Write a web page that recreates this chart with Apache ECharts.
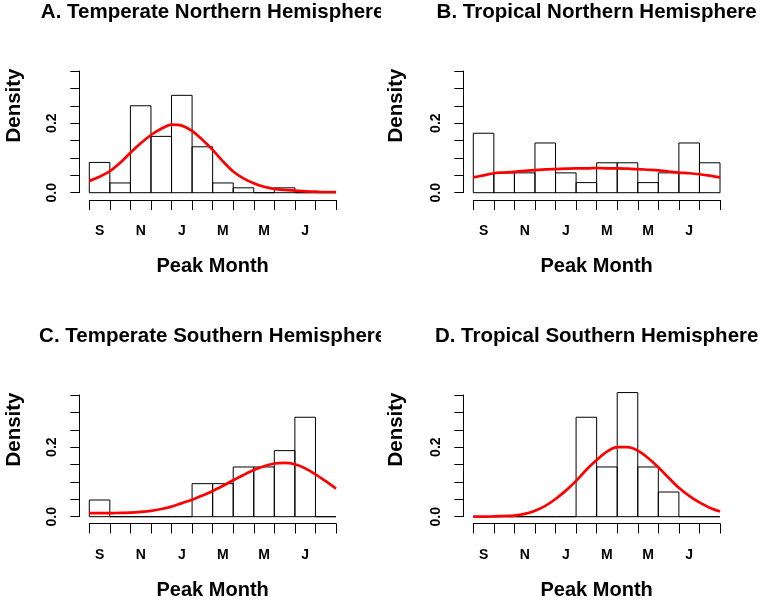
<!DOCTYPE html>
<html><head><meta charset="utf-8">
<script src="https://cdn.jsdelivr.net/npm/echarts@6/dist/echarts.min.js"></script>
<style>
html,body{margin:0;padding:0;background:#fff;width:762px;height:601px;overflow:hidden;}
.p{position:absolute;width:381px;}
</style></head><body>
<div id="A" class="p" style="left:0;top:0;height:300px"></div>
<div id="B" class="p" style="left:381px;top:0;height:300px"></div>
<div id="C" class="p" style="left:0;top:300px;height:301px"></div>
<div id="D" class="p" style="left:381px;top:300px;height:301px"></div>
<script>
// Month bins (Sep .. Aug)
const months = ['S','O','N','D','J','F','M','A','M','J','J','A'];
// Y-axis labelled ticks
const yLabelValues = [0, 0.2];
const yLabelTexts = ['0.0', '0.2'];
// Histogram densities per month bin
const histA = [0.087, 0.028, 0.250, 0.162, 0.280, 0.132, 0.028, 0.014, 0, 0.014, 0, 0];
const histB = [0.171, 0.057, 0.057, 0.143, 0.057, 0.029, 0.086, 0.086, 0.029, 0.057, 0.143, 0.086];
const histC = [0.048, 0, 0, 0, 0, 0.095, 0.095, 0.143, 0.143, 0.190, 0.286, 0];
const histD = [0, 0, 0, 0, 0, 0.286, 0.143, 0.357, 0.143, 0.071, 0, 0];
// Fitted density curves, sampled every half month
const curveX = [0,0.5,1,1.5,2,2.5,3,3.5,4,4.5,5,5.5,6,6.5,7,7.5,8,8.5,9,9.5,10,10.5,11,11.5,12];
const curveA = [0.034,0.046,0.062,0.086,0.115,0.142,0.166,0.184,0.196,0.193,0.178,0.152,0.123,0.090,0.061,0.041,0.027,0.017,0.011,0.008,0.006,0.004,0.003,0.002,0.002];
const curveB = [0.044,0.050,0.056,0.058,0.060,0.063,0.065,0.067,0.068,0.069,0.070,0.070,0.071,0.070,0.070,0.069,0.068,0.066,0.064,0.061,0.058,0.056,0.053,0.049,0.044];
const curveC = [0.010,0.010,0.010,0.011,0.012,0.014,0.017,0.022,0.029,0.039,0.049,0.061,0.074,0.089,0.105,0.120,0.134,0.145,0.153,0.155,0.151,0.139,0.122,0.102,0.081];
const curveD = [0.000,0.000,0.001,0.002,0.003,0.008,0.017,0.031,0.051,0.075,0.103,0.135,0.163,0.187,0.200,0.200,0.190,0.169,0.142,0.112,0.083,0.060,0.041,0.026,0.015];
const titles = ['A. Temperate Northern Hemisphere','B. Tropical Northern Hemisphere','C. Temperate Southern Hemisphere','D. Tropical Southern Hemisphere'];

const FONT = '"Liberation Sans", Arial, Helvetica, sans-serif';
const panels = [
  {id:'A', title:titles[0], hist:histA, curve:curveA, dx:0, dy:0},
  {id:'B', title:titles[1], hist:histB, curve:curveB, dx:3, dy:0},
  {id:'C', title:titles[2], hist:histC, curve:curveC, dx:0, dy:24},
  {id:'D', title:titles[3], hist:histD, curve:curveD, dx:3, dy:24}
];
const labelStyle = {color: '#000', fontSize: 14, fontWeight: 'bold', fontFamily: FONT};
const blackLine = {color: '#000', width: 1};

panels.forEach(p => {
  const chart = echarts.init(document.getElementById(p.id), null, {renderer:'canvas'});
  const gl = 89.3 + p.dx, gt = 71 + p.dy, gw = 246.7, gh = 121.7;
  const xOff = 7.3, yOff = 10;
  const cx = gl + gw / 2;
  chart.setOption({
    animation: false,
    backgroundColor: '#fff',
    grid: [
      {left: gl, top: gt, width: gw, height: gh, containLabel: false},          // plot area
      {left: gl, top: gt + xOff, width: gw, height: gh, containLabel: false},   // x axis (set below plot)
      {left: gl - yOff, top: gt, width: gw, height: gh, containLabel: false}    // y axis (set left of plot)
    ],
    xAxis: [
      {type: 'value', gridIndex: 0, min: 0, max: 12, show: false},
      {type: 'category', gridIndex: 1, data: months, boundaryGap: true,
       axisLine: {show: true, lineStyle: blackLine},
       axisTick: {show: true, interval: 0, length: 10, alignWithLabel: false, lineStyle: blackLine},
       axisLabel: Object.assign({interval: 1, margin: 24.5}, labelStyle),
       splitLine: {show: false},
       name: 'Peak Month', nameLocation: 'middle', nameGap: 56.5,
       nameTextStyle: {color: '#000', fontSize: 20, fontWeight: 'bold', fontFamily: FONT}},
      {type: 'value', gridIndex: 2, min: 0, max: 1, show: false}
    ],
    yAxis: [
      {type: 'value', gridIndex: 0, min: 0, max: 0.35, show: false},
      {type: 'value', gridIndex: 1, min: 0, max: 1, show: false},
      {type: 'value', gridIndex: 2, min: 0, max: 0.35, interval: 0.05,
       axisLine: {show: true, lineStyle: blackLine},
       axisTick: {show: true, length: 9, lineStyle: blackLine},
       axisLabel: Object.assign({rotate: 90, margin: 20,
         formatter: v => { const i = yLabelValues.findIndex(t => Math.abs(t - v) < 1e-9); return i >= 0 ? yLabelTexts[i] : ''; }}, labelStyle),
       splitLine: {show: false}}
    ],
    graphic: [
      {type: 'text', x: cx, y: 12.5 + p.dy, silent: true,
       style: {text: p.title, font: 'bold 20.5px ' + FONT, fill: '#000', textAlign: 'center', textVerticalAlign: 'middle'}},
      {type: 'text', x: 14 + p.dx * 0.6, y: 105.5 + p.dy, rotation: Math.PI / 2, silent: true,
       style: {text: 'Density', font: 'bold 20.5px ' + FONT, fill: '#000', textAlign: 'center', textVerticalAlign: 'middle'}}
    ],
    series: [{
      type: 'custom', xAxisIndex: 0, yAxisIndex: 0, clip: false,
      data: p.hist.map((v, i) => [i, i + 1, v]),
      encode: {x: [0, 1], y: 2},
      renderItem: (params, api) => {
        const p0 = api.coord([api.value(0), 0]);
        const p1 = api.coord([api.value(1), api.value(2)]);
        return {type: 'rect', shape: {x: p0[0], y: p1[1], width: p1[0] - p0[0], height: p0[1] - p1[1]},
                style: {fill: 'none', stroke: '#000', lineWidth: 1}};
      },
      silent: true, z: 2
    }, {
      type: 'line', xAxisIndex: 0, yAxisIndex: 0, data: curveX.map((x, i) => [x, p.curve[i]]),
      showSymbol: false, smooth: 0.3, clip: false, silent: true,
      lineStyle: {color: '#ff0000', width: 2.7}, z: 3
    }]
  });
});
</script>
</body></html>
